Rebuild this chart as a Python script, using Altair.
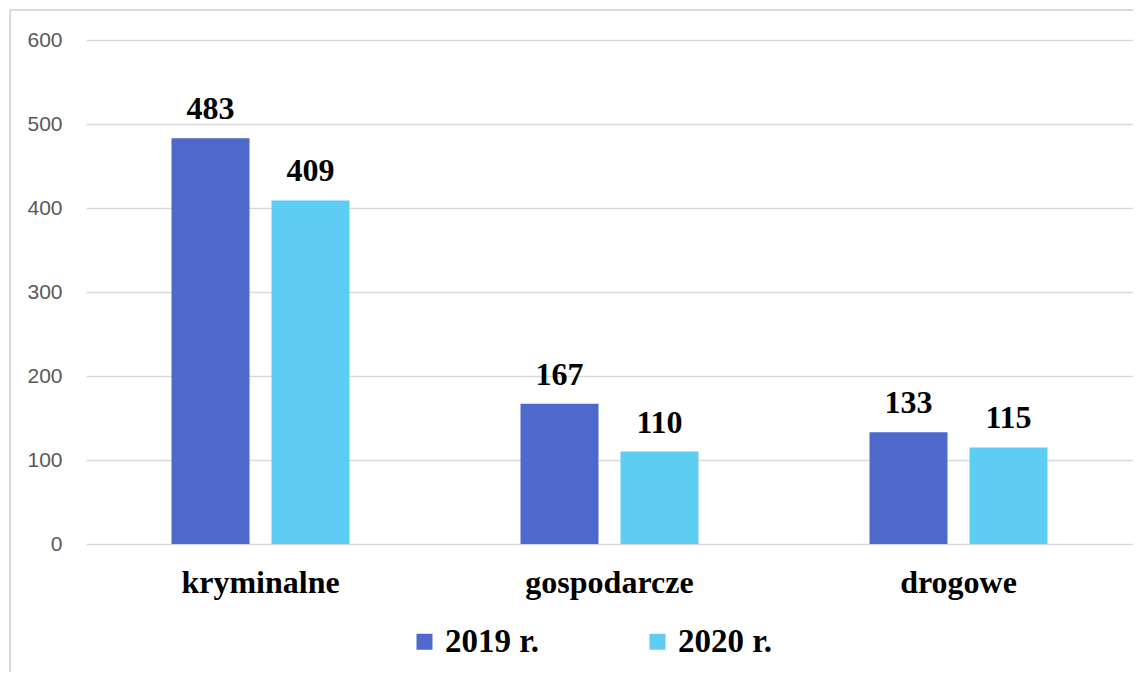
import altair as alt
import pandas as pd

categories = ["kryminalne", "gospodarcze", "drogowe"]
years = ["2019 r.", "2020 r."]
values_2019 = [483, 167, 133]
values_2020 = [409, 110, 115]
colors = ["#4F68CB", "#5DCDF3"]

rows = []
for c, v in zip(categories, values_2019):
    rows.append({"kat": c, "rok": years[0], "val": v})
for c, v in zip(categories, values_2020):
    rows.append({"kat": c, "rok": years[1], "val": v})
df = pd.DataFrame(rows)

serif = "Liberation Serif"

x_enc = alt.X("kat:N", sort=categories, title=None,
              scale=alt.Scale(paddingInner=0.49, paddingOuter=0.245),
              axis=alt.Axis(labelFont=serif, labelFontWeight="bold", labelFontSize=32,
                            labelColor="#000000", labelAngle=0, ticks=False, tickSize=0,
                            domain=False, labelPadding=48, labelBaseline="alphabetic"))
xoff = alt.XOffset("rok:N", sort=years, scale=alt.Scale(paddingInner=0.22, paddingOuter=0))
y_enc = alt.Y("val:Q", title=None,
              scale=alt.Scale(domain=[0, 600], nice=False),
              axis=alt.Axis(values=[0, 100, 200, 300, 400, 500, 600], labelFont="Liberation Sans",
                            labelFontSize=21, labelColor="#595959", ticks=False, tickSize=0,
                            domain=False, labelPadding=24, gridColor="#D9D9D9", gridWidth=1.3))

bars = alt.Chart(df).mark_bar().encode(
    x=x_enc, xOffset=xoff, y=y_enc,
    color=alt.Color("rok:N", sort=years, scale=alt.Scale(domain=years, range=colors),
                    legend=alt.Legend(title=None, orient="none", legendX=322, legendY=585,
                                      padding=0,
                                      direction="horizontal", symbolType="square",
                                      symbolSize=256, symbolStrokeWidth=0,
                                      labelFont=serif, labelFontWeight="bold",
                                      labelFontSize=33, labelColor="#000000",
                                      labelOffset=4, columnPadding=101, labelLimit=300))
)

labels = alt.Chart(df).mark_text(font=serif, fontWeight="bold", fontSize=32,
                                 color="#000000", baseline="alphabetic", dy=-19).encode(
    x=alt.X("kat:N", sort=categories), xOffset=xoff, y="val:Q", text="val:Q"
)

border_left = alt.Chart(df).mark_rule(color="#D9D9D9", strokeWidth=2).encode(
    x=alt.value(-76), y=alt.value(-30), y2=alt.value(700))
border_top = alt.Chart(df).mark_rule(color="#D9D9D9", strokeWidth=2).encode(
    x=alt.value(-76), x2=alt.value(1100), y=alt.value(-30))

chart = alt.layer(border_left, border_top, bars, labels).properties(
    width=1047, height=504,
    autosize=alt.AutoSizeParams(type="none"),
    padding={"left": 78, "top": 32, "right": 0, "bottom": 128},
).configure_view(stroke=None)

chart.save("out.html", embed_options={"renderer": "svg", "actions": False})
